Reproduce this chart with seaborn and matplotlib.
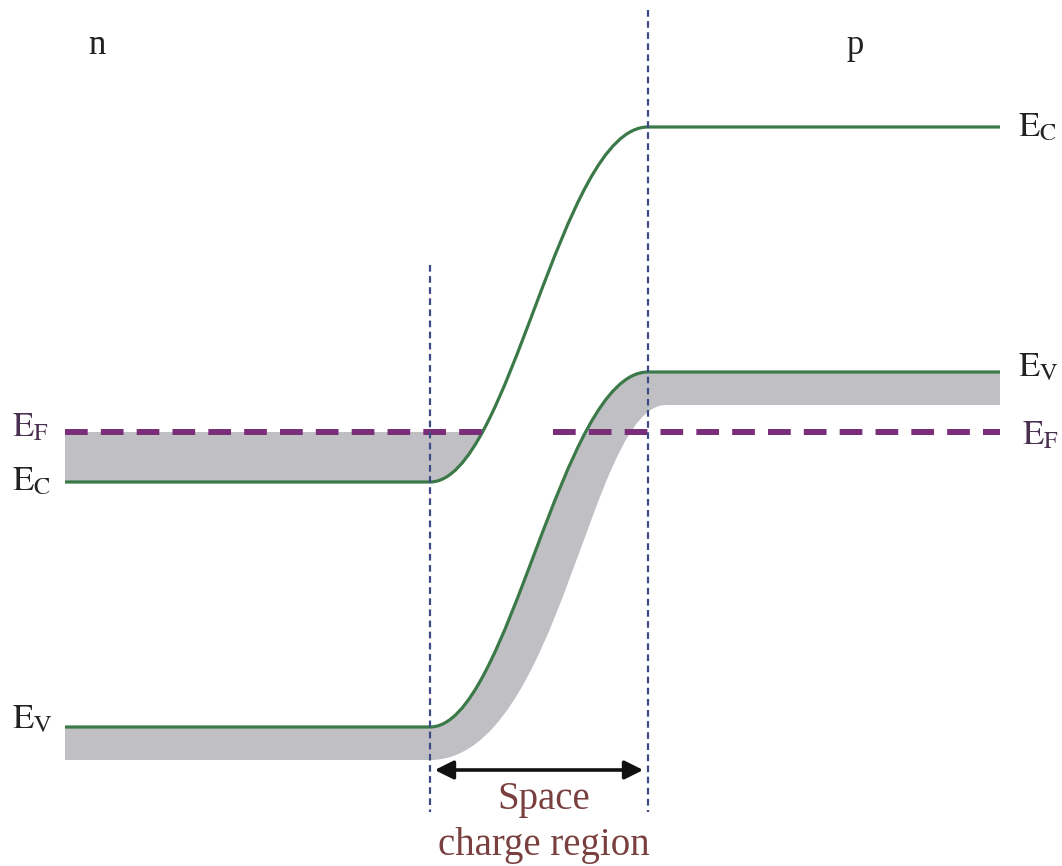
import numpy as np
import seaborn as sns
import matplotlib.pyplot as plt
from matplotlib.path import Path
from matplotlib.patches import PathPatch

# positions en pixels de l'image (y vers le bas)
x_left, x_right = 65, 1000
x_n_edge, x_p_edge = 430, 648

# niveaux (y pixel)
ec_n, ec_p = 482, 127
ev_n, ev_p = 727, 372
ev_low_n, ev_low_p = 760, 405
ef_level = 432

# points de controle des courbes (bezier)
ec_ctrl = [(510, 482), (560, 127)]
ev_ctrl = [(510, 727), (560, 372)]
ev_low_ctrl = [(560, 760), (590, 405)]
ev_low_end_x = 666

# segments du niveau de Fermi
ef_left = [65, 490]
ef_right = [553, 1000]

# lignes verticales de la zone de charge
vline_n = [265, 812]
vline_p = [10, 812]

green = '#3b7a48'
gray = '#c0c0c4'
purple = '#7a2d78'
navy = '#3c4a86'

sns.set_theme(style='white')
plt.rcParams['mathtext.fontset'] = 'stix'
plt.rcParams['font.family'] = ['Liberation Serif', 'DejaVu Serif']

fig = plt.figure(figsize=(10.62, 8.66), dpi=100)
ax = fig.add_axes([0, 0, 1, 1])
ax.set_xlim(0, 1062)
ax.set_ylim(866, 0)
ax.axis('off')


def band_path(y_n, y_p, ctrl):
    verts = [(x_left, y_n), (x_n_edge, y_n), ctrl[0], ctrl[1], (x_p_edge, y_p), (x_right, y_p)]
    codes = [Path.MOVETO, Path.LINETO, Path.CURVE4, Path.CURVE4, Path.CURVE4, Path.LINETO]
    return verts, codes


# zone grise entre Ef et Ec (cote n)
v, c = band_path(ec_n, ec_p, ec_ctrl)
v = v[:5] + [(x_left, ec_p), (x_left, ec_n)]
c = c[:5] + [Path.LINETO, Path.CLOSEPOLY]
patch = PathPatch(Path(v, c), facecolor=gray, edgecolor='none', zorder=1)
ax.add_patch(patch)
clip = plt.Rectangle((x_left, ef_level), 600, ec_n - ef_level, transform=ax.transData)
patch.set_clip_path(clip)

# bande grise sous Ev
v, c = band_path(ev_n, ev_p, ev_ctrl)
v = v + [(x_right, ev_low_p), (ev_low_end_x, ev_low_p), ev_low_ctrl[1], ev_low_ctrl[0],
         (x_n_edge, ev_low_n), (x_left, ev_low_n), (x_left, ev_n)]
c = c + [Path.LINETO, Path.LINETO, Path.CURVE4, Path.CURVE4, Path.CURVE4, Path.LINETO, Path.CLOSEPOLY]
ax.add_patch(PathPatch(Path(v, c), facecolor=gray, edgecolor='none', zorder=1))

# courbes Ec et Ev
for y_n, y_p, ctrl in [(ec_n, ec_p, ec_ctrl), (ev_n, ev_p, ev_ctrl)]:
    v, c = band_path(y_n, y_p, ctrl)
    ax.add_patch(PathPatch(Path(v, c), facecolor='none', edgecolor=green, lw=2.3, zorder=3))

# niveau de Fermi
for seg in [ef_left, ef_right]:
    sns.lineplot(x=seg, y=[ef_level, ef_level], ax=ax, color=purple, lw=4.3,
                 zorder=4).lines[-1].set_dashes([3.8, 2.2])

# limites de la zone de charge d'espace
for xv, yr in [(x_n_edge, vline_n), (x_p_edge, vline_p)]:
    ax.plot([xv, xv], yr, color=navy, lw=1.6, dashes=[3, 2], zorder=5)

# fleche
ax.annotate('', xy=(x_n_edge + 2, 770), xytext=(x_p_edge - 2, 770),
            arrowprops=dict(arrowstyle='<|-|>', color='#111111', lw=2.6, mutation_scale=28),
            zorder=6)

# textes
fs = 25
ax.text(97, 45, 'n', fontsize=fs, ha='center', va='center', color='#222222')
ax.text(855, 45, 'p', fontsize=fs, ha='center', va='center', color='#222222')
ax.text(12, 428, r'$\mathrm{E_F}$', fontsize=fs, color='#4a3050', va='center')
ax.text(12, 482, r'$\mathrm{E_C}$', fontsize=fs, color='#222222', va='center')
ax.text(12, 720, r'$\mathrm{E_V}$', fontsize=fs, color='#222222', va='center')
ax.text(1018, 128, r'$\mathrm{E_C}$', fontsize=fs, color='#222222', va='center')
ax.text(1018, 368, r'$\mathrm{E_V}$', fontsize=fs, color='#222222', va='center')
ax.text(1022, 436, r'$\mathrm{E_F}$', fontsize=fs, color='#4a3050', va='center')
ax.text(544, 800, 'Space', fontsize=28, color='#7a4040', ha='center', va='center')
ax.text(544, 845, 'charge region', fontsize=28, color='#7a4040', ha='center', va='center')

fig.savefig('out.png', dpi=100)
